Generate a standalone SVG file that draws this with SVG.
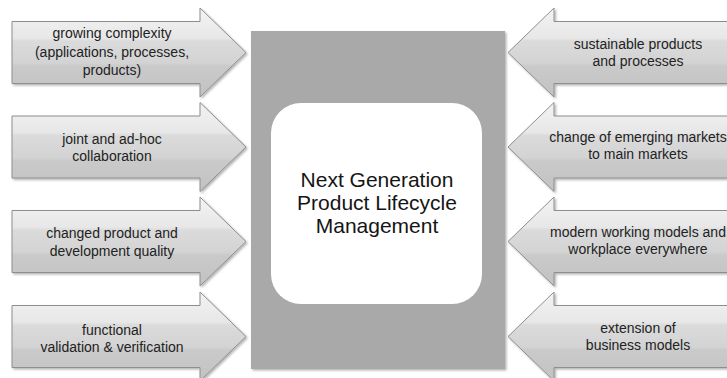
<svg xmlns="http://www.w3.org/2000/svg" width="727" height="378" viewBox="0 0 727 378">
<defs>
<linearGradient id="ag" x1="0" y1="0" x2="0" y2="1">
<stop offset="0" stop-color="#f2f2f2"/>
<stop offset="0.15" stop-color="#eeeeee"/>
<stop offset="0.34" stop-color="#e7e7e7"/>
<stop offset="0.37" stop-color="#dbdbdb"/>
<stop offset="0.62" stop-color="#d3d3d3"/>
<stop offset="0.65" stop-color="#cacaca"/>
<stop offset="1" stop-color="#c2c2c2"/>
</linearGradient>
<filter id="sh" x="-10%" y="-10%" width="125%" height="125%">
<feDropShadow dx="1.5" dy="1.5" stdDeviation="1.2" flood-color="#000" flood-opacity="0.3"/>
</filter>
<path id="la" d="M0,-31 H188 V-44.5 L234,0 L188,44.5 V31 H0 Z"/>
<path id="ra" d="M0,-31 H-188 V-44.5 L-234,0 L-188,44.5 V31 H0 Z"/>
</defs>
<style>
.arr{fill:url(#ag);stroke:#8e8e8e;stroke-width:1;filter:url(#sh)}
.t{font-family:"Liberation Sans",Arial,sans-serif;font-size:14px;fill:#222222;text-anchor:middle}
.c{font-family:"Liberation Sans",Arial,sans-serif;font-size:21px;fill:#151515;text-anchor:middle}
</style>
<rect width="727" height="378" fill="#ffffff"/>
<g id="center">
<rect x="251" y="31" width="254" height="338" fill="#a9a9a9" filter="url(#sh)"/>
<rect x="271" y="103" width="211" height="201" rx="30" fill="#ffffff"/>
<text class="c" x="377" y="187">Next Generation</text>
<text class="c" x="377" y="210">Product Lifecycle</text>
<text class="c" x="377" y="233">Management</text>
</g>
<g id="l1"><use href="#la" class="arr" transform="translate(12,52.5)"/>
<text class="t" x="112" y="38">growing complexity</text>
<text class="t" x="112" y="57">(applications, processes,</text>
<text class="t" x="112" y="75">products)</text></g>
<g id="l2"><use href="#la" class="arr" transform="translate(12,147)"/>
<text class="t" x="112" y="144">joint and ad-hoc</text>
<text class="t" x="112" y="161">collaboration</text></g>
<g id="l3"><use href="#la" class="arr" transform="translate(12,241.5)"/>
<text class="t" x="112" y="238">changed product and</text>
<text class="t" x="112" y="256">development quality</text></g>
<g id="l4"><use href="#la" class="arr" transform="translate(12,336.5)"/>
<text class="t" x="112" y="335">functional</text>
<text class="t" x="112" y="352">validation &amp; verification</text></g>
<g id="r1"><use href="#ra" class="arr" transform="translate(742,52.5)"/>
<text class="t" x="638" y="49">sustainable products</text>
<text class="t" x="638" y="66">and processes</text></g>
<g id="r2"><use href="#ra" class="arr" transform="translate(742,147)"/>
<text class="t" x="638" y="142">change of emerging markets</text>
<text class="t" x="638" y="159">to main markets</text></g>
<g id="r3"><use href="#ra" class="arr" transform="translate(742,241.5)"/>
<text class="t" x="638" y="237">modern working models and</text>
<text class="t" x="638" y="254">workplace everywhere</text></g>
<g id="r4"><use href="#ra" class="arr" transform="translate(742,336.5)"/>
<text class="t" x="638" y="333">extension of</text>
<text class="t" x="638" y="350">business models</text></g>
</svg>
